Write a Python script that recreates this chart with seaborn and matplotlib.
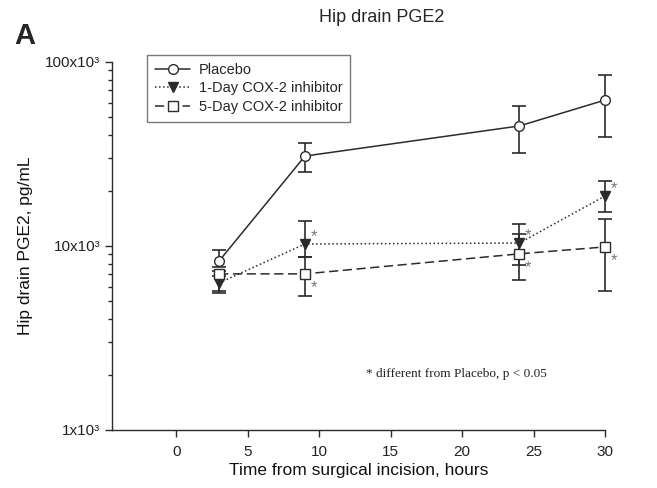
import numpy as np
import pandas as pd
import matplotlib
matplotlib.use("Agg")
import matplotlib.pyplot as plt
import seaborn as sns
from matplotlib.ticker import FixedLocator, FixedFormatter, LogLocator, NullFormatter

# data
hours = [3, 9, 24, 30]
placebo = [8300, 30800, 44900, 62100]
placebo_lo = [7700, 25200, 32000, 39100]
placebo_hi = [9500, 36300, 57700, 85000]
oneday = [6300, 10250, 10370, 18700]
oneday_lo = [5560, 8700, 7890, 15300]
oneday_hi = [6900, 13700, 13200, 22500]
fiveday = [7050, 7050, 9060, 9880]
fiveday_lo = [5700, 5350, 6530, 5690]
fiveday_hi = [7300, 8700, 11600, 14000]
groups = ["Placebo", "1-Day COX-2 inhibitor", "5-Day COX-2 inhibitor"]

sns.set_style("ticks")
plt.rcParams["font.family"] = ["Liberation Sans", "DejaVu Sans"]

fig = plt.figure(figsize=(6.57, 4.88), dpi=100)
ax = fig.add_axes([0.1705, 0.119, 0.7505, 0.754])

ink = "#2b2b2b"
series = [
    (placebo, placebo_lo, placebo_hi, "o", "white", "-"),
    (oneday, oneday_lo, oneday_hi, "v", ink, ":"),
    (fiveday, fiveday_lo, fiveday_hi, "s", "white", (0, (6, 3))),
]

for name, (vals, lo, hi, mk, fc, ls) in zip(groups, series):
    v = np.array(vals)
    err = [v - np.array(lo), np.array(hi) - v]
    eb = ax.errorbar(hours, v, yerr=err, fmt="none", ecolor=ink, elinewidth=1.2,
                     capsize=5, capthick=1.2, zorder=2)
    for art in eb.get_children():
        art.set_clip_on(False)
    df = pd.DataFrame({"h": hours, "v": vals})
    sns.lineplot(data=df, x="h", y="v", ax=ax, color=ink, linestyle=ls,
                 linewidth=1.1, marker=mk, markersize=7 if mk != "s" else 6.5,
                 markerfacecolor=fc, markeredgecolor=ink, markeredgewidth=1.0,
                 label=name, zorder=3, clip_on=False)

# significance asterisks
star_pts = [(9, oneday[1], 5), (9, fiveday[1], -10), (24, oneday[2], 5),
            (24, fiveday[2], -10), (30, oneday[3], 5), (30, fiveday[3], -10)]
for x, y, dy in star_pts:
    ax.annotate("*", (x, y), xytext=(6.5, dy), textcoords="offset points",
                color="#777777", fontsize=12, ha="center", va="center",
                annotation_clip=False)

ax.text(19.6, 2010, "* different from Placebo, p < 0.05", family="Liberation Serif",
        fontsize=9.5, ha="center", va="center", color="#222222")

ax.set_yscale("log")
ax.set_ylim(1000, 100000)
ax.set_xlim(-4.5, 30)
ax.set_xticks([0, 5, 10, 15, 20, 25, 30])
ax.yaxis.set_major_locator(FixedLocator([1000, 10000, 100000]))
ax.yaxis.set_major_formatter(FixedFormatter(["1x10³", "10x10³", "100x10³"]))
ax.yaxis.set_minor_locator(LogLocator(base=10, subs=np.arange(2, 10)))
ax.yaxis.set_minor_formatter(NullFormatter())
ax.tick_params(axis="both", direction="out", labelsize=11, colors=ink, length=5,
               width=1, labelcolor="#222222")
ax.tick_params(axis="x", pad=6)
ax.tick_params(axis="y", which="minor", direction="out", length=3, width=1, colors=ink)
sns.despine(ax=ax)
for sp in ["left", "bottom"]:
    ax.spines[sp].set_color(ink)
    ax.spines[sp].set_linewidth(1.0)

ax.set_xlabel("Time from surgical incision, hours", fontsize=12.5, color="#111111",
              labelpad=3)
ax.set_ylabel("Hip drain PGE2, pg/mL", fontsize=12.5, color="#111111", labelpad=9)

leg = ax.legend(loc="upper left", bbox_to_anchor=(147 / 657, 1 - 55 / 488),
                bbox_transform=fig.transFigure, frameon=True, fancybox=False,
                fontsize=10.5, handlelength=2.4, handletextpad=0.6, borderpad=0.55,
                labelspacing=0.3, borderaxespad=0)
leg.get_frame().set_edgecolor("#555555")
leg.get_frame().set_linewidth(1.0)

fig.text(382 / 657, 1 - 18 / 488, "Hip drain PGE2", ha="center", va="center", fontsize=13)
fig.text(14 / 657, 1 - 36 / 488, "A", ha="left", va="center", fontsize=21, fontweight="bold")

fig.savefig("out.png", dpi=100)
